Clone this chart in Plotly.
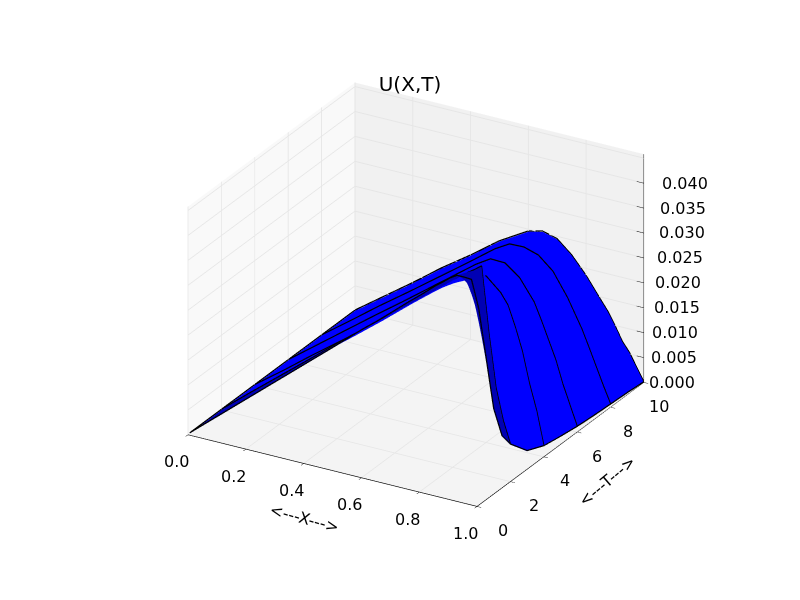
import plotly.graph_objects as go

X = [0, .1, .2, .3, .4, .5, .6, .65, .7, .75, .8, .85, .875, .9, .925, .95, .975, 1]
T = [.1, .5, 1, 1.5, 2, 3, 4, 5, 6, 7, 8, 9, 10]
U_T01 = [0, .0049, .0098, .0147, .0196, .0245, .0295, .0318, .0343, .0368, .0392, .0417, .0428, .044, .0449, .0449, .0448, .0393]
U_T05 = [0, .0049, .0098, .0147, .0196, .0245, .0295, .0318, .0343, .0368, .0392, .0415, .0424, .0435, .0438, .0417, .0366, .0294]
U_T1 = [0, .0049, .0098, .0146, .0195, .0244, .0293, .0317, .0341, .0365, .0389, .0412, .0421, .0427, .0397, .034, .0258, .017]
U_T15 = [0, .0048, .0097, .0145, .0193, .0241, .0289, .0313, .0337, .036, .0383, .0405, .0414, .0397, .0314, .0227, .0155, .0103]
U_T2 = [0, .0048, .0095, .0142, .0189, .0236, .0283, .0306, .0329, .0352, .0375, .0396, .0406, .0417, .0288, .018, .0118, .0074]
U_T3 = [0, .0044, .009, .0135, .018, .0226, .0274, .0297, .032, .0338, .0352, .0355, .0345, .0309, .0232, .0139, .0074, .0036]
U_T4 = [0, .0043, .0088, .0131, .0176, .0222, .0268, .029, .031, .0325, .0333, .0307, .0286, .0247, .0201, .0139, .0088, .0021]
U_T5 = [0, .0043, .0086, .013, .0172, .022, .0262, .0284, .0303, .0314, .0315, .0273, .0247, .0211, .0165, .0108, .0062, .0015]
U_T6 = [0, .0044, .0088, .0132, .0175, .0219, .0263, .0285, .0303, .0302, .028, .0239, .0206, .017, .0134, .0088, .0049, .001]
U_T7 = [0, .0043, .0087, .013, .0173, .0216, .026, .028, .029, .0286, .0266, .0219, .0185, .0152, .0118, .0077, .0041, .0007]
U_T8 = [0, .0043, .0087, .0129, .0172, .0215, .0259, .0276, .0277, .0268, .0243, .0198, .017, .0142, .0108, .0073, .0038, .0005]
U_T9 = [0, .0042, .0085, .0128, .017, .0213, .0254, .0266, .0263, .0249, .022, .0175, .0149, .0122, .0093, .0062, .0031, .0003]
U_T10 = [0, .0042, .0084, .0128, .0168, .0211, .0245, .0252, .0244, .0219, .0185, .0144, .0124, .0099, .0071, .0052, .0026, 0]
U = [U_T01, U_T05, U_T1, U_T15, U_T2, U_T3, U_T4, U_T5, U_T6, U_T7, U_T8, U_T9, U_T10]
LINE_ROWS = [0, 4, 6, 8, 10, 12]
SPLIT = 4
X_TICKS = [0, .2, .4, .6, .8, 1]
T_TICKS = [0, 2, 4, 6, 8, 10]
Z_TICKS = [0, .005, .01, .015, .02, .025, .03, .035, .04]
Z_MAX = 0.0458
LIFT = 0.00015

FONT = "DejaVu Sans"
flat = dict(ambient=1, diffuse=0, specular=0, fresnel=0, roughness=1)


def surf(rows, colour):
    return go.Surface(x=X, y=[T[i] for i in rows], z=[U[i] for i in rows],
                      colorscale=[[0, colour], [1, colour]], showscale=False,
                      lighting=flat, hoverinfo="skip")


fig = go.Figure()
fig.add_trace(surf(range(0, SPLIT + 1), "#0000b4"))
fig.add_trace(surf(range(SPLIT, len(T)), "#0000ff"))


def wire(xs, ys, zs, width=2.5):
    fig.add_trace(go.Scatter3d(x=xs, y=ys, z=zs, mode="lines",
                               line=dict(color="black", width=width),
                               hoverinfo="skip", showlegend=False))


for r in LINE_ROWS:
    wire(X, [T[r]] * len(X), [v + LIFT for v in U[r]])
wire([X[-1]] * len(T), T, [row[-1] + LIFT for row in U])
wire([X[0]] * len(T), T, [row[0] + LIFT for row in U])

# z axis on the right-hand vertical edge
wire([1, 1], [10, 10], [0, Z_MAX], 1.5)
for z in Z_TICKS:
    wire([0.975, 1], [10, 10], [z, z], 1.5)


def note(text, x, y, z, dx, dy, size=16, angle=0):
    return dict(x=x, y=y, z=z, text=text, showarrow=False, xshift=dx, yshift=-dy,
                textangle=angle, xanchor="center", yanchor="middle",
                font=dict(family=FONT, size=size, color="black"))


notes = [note(f"{v:.1f}", v, 0, 0, -12, 27) for v in X_TICKS]
notes += [note(f"{v}", 1, v, 0, 26 - 1.1 * v, 24) for v in T_TICKS]
notes += [note(f"{v:.3f}", 1, 10, v, 28 + 325 * v, 0) for v in Z_TICKS]
notes.append(note("<---X--->", .5, 0, 0, -28, 48, 16, 15))
notes.append(note("<---T--->", 1, 5, 0, 46, 37, 16, -40))


def axis(rng, dtick, bg, ticks=True):
    return dict(title=dict(text=""), range=rng, dtick=dtick, tick0=0, autorange=False,
                showbackground=True, backgroundcolor=bg,
                gridcolor="#e6e6e6", gridwidth=2, zeroline=False,
                showline=ticks, linecolor="black", linewidth=1.5,
                ticks="outside" if ticks else "", ticklen=5, tickcolor="black",
                showticklabels=False, showspikes=False)


fig.update_layout(
    width=800, height=600,
    margin=dict(l=0, r=0, t=0, b=0),
    paper_bgcolor="white",
    showlegend=False,
    title=dict(text="U(X,T)", x=402 / 800, y=1 - 76 / 600, xanchor="center", yanchor="middle",
               font=dict(family=FONT, size=20, color="black")),
    scene=dict(
        domain=dict(x=[0.02, 1], y=[0.045, 1]),
        aspectmode="manual", aspectratio=dict(x=1.165, y=1.165, z=.882),
        xaxis=axis([0, 1], 0.2, "#f9f9f9"),
        yaxis=axis([0, 10], 2, "#f1f1f1"),
        zaxis=axis([0, Z_MAX], 0.005, "#f4f4f4", ticks=False),
        annotations=notes,
        camera=dict(eye=dict(x=1.19, y=-2.06, z=1.13), up=dict(x=0, y=0, z=1),
                    center=dict(x=0, y=0, z=0),
                    projection=dict(type="orthographic")),
    ),
)

fig.write_html("out.html")
